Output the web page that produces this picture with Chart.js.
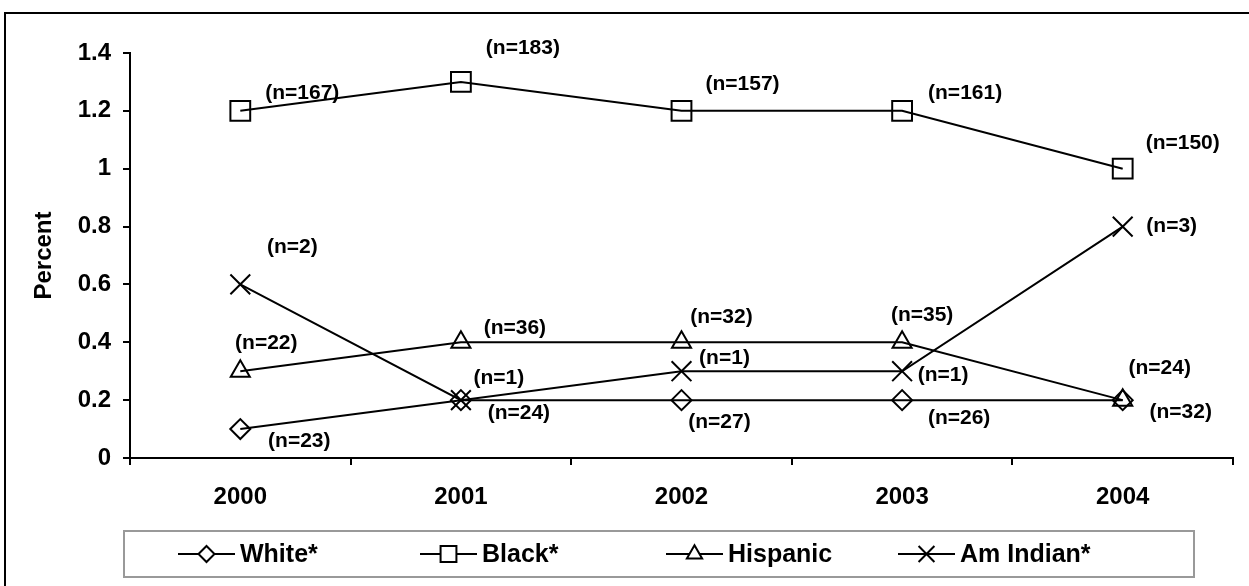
<!DOCTYPE html>
<html lang="en">
<head>
  <meta charset="UTF-8"/>
  <title>Percent by race, 2000-2004</title>
  <script src="https://cdn.jsdelivr.net/npm/chart.js"></script>
  <style>
    html, body { margin: 0; padding: 0; overflow: hidden; background: #fff; }
    /* outer frame of the figure (right and bottom edges fall off the page) */
    .frame {
      position: absolute; left: 4px; top: 12px;
      width: 1400px; height: 800px;
      border: 2px solid #000;
    }
    .chart-box { position: absolute; left: 0; top: 0; width: 1249px; height: 586px; }
  </style>
</head>
<body>
  <div class="frame"></div>
  <div class="chart-box"><canvas id="chart" width="1249" height="586"></canvas></div>

  <script>
    // Data
    const years = ['2000', '2001', '2002', '2003', '2004'];

    const white    = [0.1, 0.2, 0.2, 0.2, 0.2];
    const black    = [1.2, 1.3, 1.2, 1.2, 1.0];
    const hispanic = [0.3, 0.4, 0.4, 0.4, 0.2];
    const amIndian = [0.6, 0.2, 0.3, 0.3, 0.8];

    // counts shown as "(n=..)" next to each point
    const whiteN    = [23, 24, 27, 26, 32];
    const blackN    = [167, 183, 157, 161, 150];
    const hispanicN = [22, 36, 32, 35, 24];
    const amIndianN = [2, 1, 1, 1, 3];

    const yTicks = [0, 0.2, 0.4, 0.6, 0.8, 1, 1.2, 1.4];

    // where each "(n=..)" label sits relative to its point (px)
    const labelOffsets = [
      [[59, 12], [58, 13], [38, 22], [57, 18], [58, 12]],
      [[62, -18], [62, -34], [61, -27], [63, -18], [60, -26]],
      [[26, -28], [54, -14], [40, -25], [20, -27], [37, -32]],
      [[52, -37], [38, -22], [43, -13], [41, 4], [49, 0]]
    ];
    // left end of each legend entry (px)
    const legendX = [178, 420, 666, 898];

    const FONT = '"Liberation Sans", Arial, sans-serif';

    function series(label, data, counts, style, radius) {
      return {
        label, data, counts,
        borderColor: '#000', borderWidth: 2,
        pointStyle: style, pointRadius: radius, pointHoverRadius: radius,
        pointBorderColor: '#000', pointBackgroundColor: 'rgba(0,0,0,0)',
        pointBorderWidth: 2, tension: 0, fill: false
      };
    }

    // "(n=..)" labels
    const countLabels = {
      id: 'countLabels',
      afterDatasetsDraw(chart) {
        const ctx = chart.ctx;
        ctx.save();
        ctx.fillStyle = '#000';
        ctx.font = 'bold 21px ' + FONT;
        ctx.textAlign = 'center';
        ctx.textBaseline = 'middle';
        chart.data.datasets.forEach((ds, i) => {
          chart.getDatasetMeta(i).data.forEach((pt, j) => {
            const [dx, dy] = labelOffsets[i][j];
            ctx.fillText('(n=' + ds.counts[j] + ')', pt.x + dx, pt.y + dy);
          });
        });
        ctx.restore();
      }
    };

    // boxed legend under the plot
    const boxLegend = {
      id: 'boxLegend',
      afterDraw(chart) {
        const ctx = chart.ctx;
        ctx.save();
        ctx.strokeStyle = '#999';
        ctx.lineWidth = 2;
        ctx.strokeRect(124, 531, 1070, 46);
        const y = 554;
        ctx.font = 'bold 25px ' + FONT;
        ctx.textBaseline = 'middle';
        chart.data.datasets.forEach((ds, i) => {
          const x0 = legendX[i];
          ctx.strokeStyle = '#000';
          ctx.lineWidth = 2;
          ctx.beginPath();
          ctx.moveTo(x0, y);
          ctx.lineTo(x0 + 57, y);
          ctx.stroke();
          ctx.fillStyle = '#fff';
          Chart.helpers.drawPoint(ctx, {
            pointStyle: ds.pointStyle, radius: ds.pointRadius * 0.8,
            borderWidth: 2, rotation: 0
          }, x0 + 28.5, y);
          ctx.fillStyle = '#000';
          ctx.fillText(ds.label, x0 + 62, y + 1);
        });
        ctx.restore();
      }
    };

    new Chart(document.getElementById('chart'), {
      type: 'line',
      data: {
        labels: years,
        datasets: [
          series('White*', white, whiteN, 'rectRot', 10),
          series('Black*', black, blackN, 'rect', 14),
          series('Hispanic', hispanic, hispanicN, 'triangle', 11),
          series('Am Indian*', amIndian, amIndianN, 'crossRot', 14)
        ]
      },
      options: {
        responsive: false,
        animation: false,
        events: [],
        layout: { autoPadding: false, padding: { top: 53, left: 0, right: 16, bottom: 0 } },
        plugins: { legend: { display: false }, tooltip: { enabled: false } },
        scales: {
          x: {
            offset: true,
            grid: { offset: true, drawOnChartArea: false, drawTicks: true, tickLength: 7, color: '#000', lineWidth: 2 },
            border: { display: true, color: '#000', width: 2 },
            ticks: { color: '#000', padding: 18, font: { family: FONT, size: 24, weight: 'bold' } },
            afterFit(scale) { scale.height = 128; }
          },
          y: {
            min: 0, max: 1.4,
            afterBuildTicks(scale) { scale.ticks = yTicks.map(v => ({ value: v })); },
            grid: { drawOnChartArea: false, drawTicks: true, tickLength: 7, color: '#000', lineWidth: 2 },
            border: { display: true, color: '#000', width: 2 },
            ticks: {
              color: '#000', padding: 12,
              font: { family: FONT, size: 24, weight: 'bold' },
              callback: v => String(v)
            },
            title: {
              display: true, text: 'Percent', color: '#000',
              font: { family: FONT, size: 24, weight: 'bold' },
              padding: { top: 30, bottom: 0 }
            },
            afterFit(scale) { scale.width = 130; }
          }
        }
      },
      plugins: [countLabels, boxLegend]
    });
  </script>
</body>
</html>
